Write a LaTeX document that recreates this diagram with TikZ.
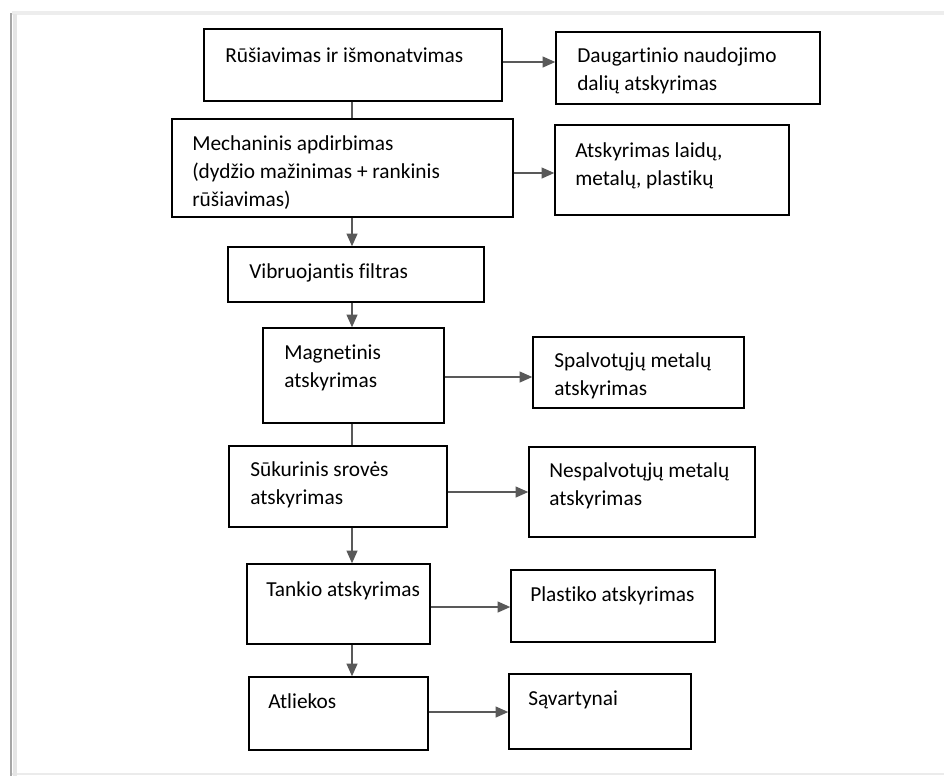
\documentclass[tikz,border=0pt]{standalone}
\usepackage{fontspec}
\setmainfont{Carlito}[Ligatures={NoCommon}]
\usetikzlibrary{arrows.meta,fit}
\newcommand{\boxlines}[1]{\begin{tabular}[t]{@{}l@{}}#1\end{tabular}}
\begin{document}
\begin{tikzpicture}[x=0.75pt,y=-0.75pt,
  box/.style={draw=black,line width=1pt,inner sep=0pt,fill=white},
  txt/.style={anchor=base west,inner sep=0pt,font=\fontsize{16}{21}\selectfont},
  link/.style={draw=black!65,line width=1.5pt},
  arr/.style={link,-{Triangle[length=9.5pt,width=8pt]}}]
\useasboundingbox (0,0) rectangle (944,776);
\fill[white] (0,0) rectangle (944,776);

% page frame
\draw[black!7,line width=2.5pt] (12,13) -- (944,13);
\draw[black!8,line width=2pt] (12,774) -- (944,774);
\draw[black!10,line width=3pt] (15,14) -- (15,776);
\draw[black!35,line width=1.6pt] (11,13) -- (11,776);

% process boxes
\node[box,fit={(204,29) (502,101)}] (b1) {};
\node[box,fit={(556,32) (820,104)}] (b2) {};
\node[box,fit={(172,119) (513,217)}] (b3) {};
\node[box,fit={(555,125) (789,215)}] (b4) {};
\node[box,fit={(228,247) (484,302)}] (b5) {};
\node[box,fit={(263,328) (444,423)}] (b6) {};
\node[box,fit={(533,337) (744,408)}] (b7) {};
\node[box,fit={(229,446) (447,527)}] (b8) {};
\node[box,fit={(529,447) (755,537)}] (b9) {};
\node[box,fit={(247,564) (430,644)}] (b10) {};
\node[box,fit={(511,570) (715,642)}] (b11) {};
\node[box,fit={(249,677) (428,750)}] (b12) {};
\node[box,fit={(509,674) (691,749)}] (b13) {};

% box texts
\node[txt] (t1) at (225,62) {Rūšiavimas ir išmonatvimas};
\node[txt] (t2) at (577,62) {\boxlines{Daugartinio naudojimo\\dalių atskyrimas}};
\node[txt] (t3) at (192,150) {\boxlines{Mechaninis apdirbimas\\(dydžio mažinimas + rankinis\\rūšiavimas)}};
\node[txt] (t4) at (575,157) {\boxlines{Atskyrimas laidų,\\metalų, plastikų}};
\node[txt] (t5) at (249,278) {Vibruojantis filtras};
\node[txt] (t6) at (284,359) {\boxlines{Magnetinis\\atskyrimas}};
\node[txt] (t7) at (554,367) {\boxlines{Spalvotųjų metalų\\atskyrimas}};
\node[txt] (t8) at (250,476) {\boxlines{Sūkurinis srovės\\atskyrimas}};
\node[txt] (t9) at (549,477) {\boxlines{Nespalvotųjų metalų\\atskyrimas}};
\node[txt] (t10) at (266,596) {Tankio atskyrimas};
\node[txt] (t11) at (530,601) {Plastiko atskyrimas};
\node[txt] (t12) at (268,708) {Atliekos};
\node[txt] (t13) at (528,705) {Sąvartynai};

% main vertical flow
\coordinate (spine) at (352,0);
\draw[link] (b1.south -| spine) -- (b3.north -| spine);
\draw[arr] (b3.south -| spine) -- (b5.north -| spine);
\draw[arr] (b5.south -| spine) -- (b6.north -| spine);
\draw[link] (b6.south -| spine) -- (b8.north -| spine);
\draw[arr] (b8.south -| spine) -- (b10.north -| spine);
\draw[arr] (b10.south -| spine) -- (b12.north -| spine);

% side outputs
\draw[arr] (b1.east |- 0,62) -- (b2.west |- 0,62);
\draw[arr] (b3.east |- 0,173) -- (b4.west |- 0,173);
\draw[arr] (b6.east |- 0,377) -- (b7.west |- 0,377);
\draw[arr] (b8.east |- 0,492) -- (b9.west |- 0,492);
\draw[arr] (b10.east |- 0,607) -- (b11.west |- 0,607);
\draw[arr] (b12.east |- 0,712) -- (b13.west |- 0,712);
\end{tikzpicture}
\end{document}
